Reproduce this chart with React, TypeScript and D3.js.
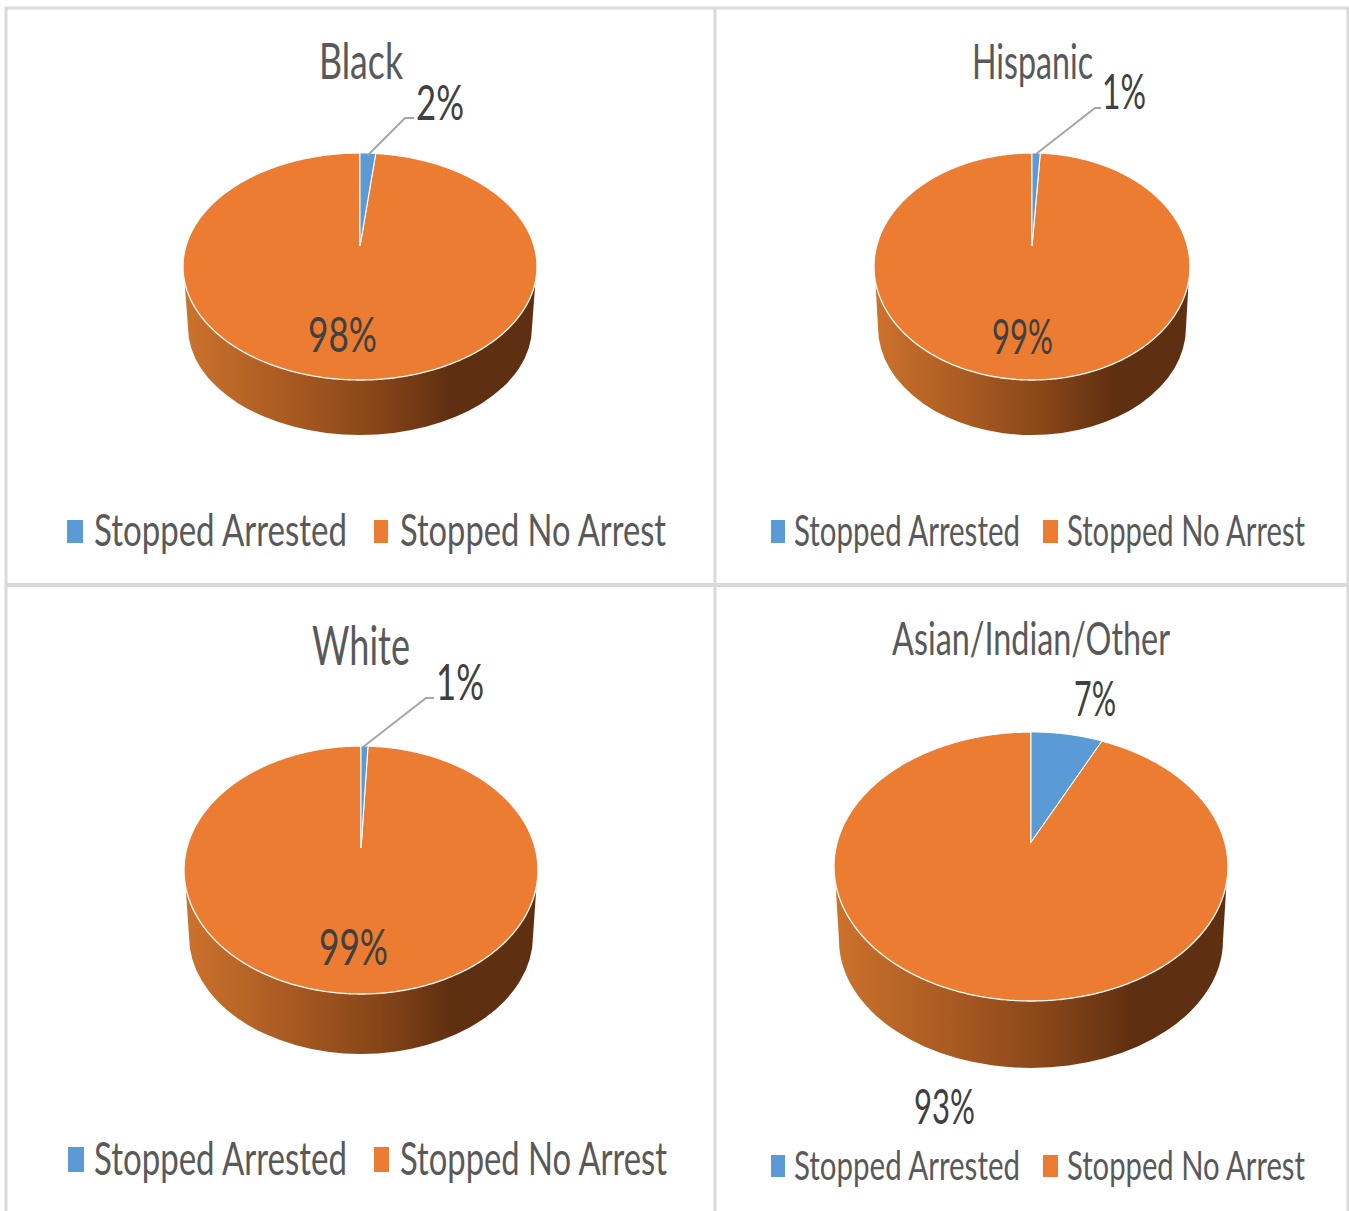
import React, { useLayoutEffect, useRef } from "react";
import * as d3 from "d3";

// ---- data ----
const categories = ["Black", "Hispanic", "White", "Asian/Indian/Other"];
const legendLabels = ["Stopped Arrested", "Stopped No Arrest"];
const arrestedLabels = ["2%", "1%", "1%", "7%"];
const noArrestLabels = ["98%", "99%", "99%", "93%"];
// slice sizes (labels are rounded)
const arrestedShare = [1.7, 1, 0.75, 7];
const noArrestShare = [98.3, 99, 99.25, 93];

// ---- layout (per panel, same order as categories) ----
type Txt = { x0: number; x1: number; base: number; size: number };
const geom = [
  { cx: 360, apex: 246, top: 153, bottom: 380, rx: 177, rxb: 172, baseBottom: 435 },
  { cx: 1032, apex: 246, top: 153, bottom: 380, rx: 158, rxb: 154, baseBottom: 435 },
  { cx: 361, apex: 848, top: 746, bottom: 994, rx: 177, rxb: 172, baseBottom: 1054 },
  { cx: 1031, apex: 842, top: 732, bottom: 1001, rx: 197, rxb: 192, baseBottom: 1068 },
];
const titlePos: Txt[] = [
  { x0: 319, x1: 403, base: 79, size: 50 },
  { x0: 972, x1: 1093, base: 79, size: 48 },
  { x0: 312, x1: 410, base: 665, size: 54 },
  { x0: 892, x1: 1170, base: 655, size: 47 },
];
const smallPos: Txt[] = [
  { x0: 416, x1: 464, base: 120, size: 48 },
  { x0: 1102, x1: 1146, base: 109, size: 48 },
  { x0: 436, x1: 484, base: 700, size: 50 },
  { x0: 1074, x1: 1116, base: 716, size: 48 },
];
const bigPos: Txt[] = [
  { x0: 308, x1: 377, base: 352, size: 48 },
  { x0: 992, x1: 1053, base: 354, size: 48 },
  { x0: 319, x1: 388, base: 965, size: 51 },
  { x0: 914, x1: 975, base: 1124, size: 48 },
];
const leaderPts: ([number, number][] | null)[] = [
  [[368, 155], [405, 118], [414, 118]],
  [[1036, 154], [1095, 108], [1101, 108]],
  [[363, 747], [426, 698], [434, 698]],
  null,
];
const legendPos = [
  { s1: [67, 83], t1: [94, 347], s2: [374, 388], t2: [400, 666], y0: 520, y1: 543, base: 546, size: 44 },
  { s1: [771, 785], t1: [794, 1020], s2: [1043, 1058], t2: [1067, 1305], y0: 520, y1: 543, base: 546, size: 42 },
  { s1: [68, 84], t1: [94, 347], s2: [374, 389], t2: [400, 667], y0: 1147, y1: 1172, base: 1175, size: 46 },
  { s1: [771, 785], t1: [794, 1020], s2: [1043, 1058], t2: [1067, 1305], y0: 1155, y1: 1177, base: 1180, size: 41 },
];

const BLUE = "#5B9BD5";
const ORANGE = "#EB7C31";
const FONT = "Lato, 'Open Sans', sans-serif";

// Fits the text to its reference width by a horizontal scale (the reference text is condensed).
function Label({ t, text, fill }: { t: Txt; text: string; fill: string }) {
  const ref = useRef<SVGTextElement>(null);
  useLayoutEffect(() => {
    const el = ref.current;
    if (!el) return;
    const fit = () => {
      const natural = el.getComputedTextLength();
      if (natural > 0) {
        el.setAttribute("transform", `translate(${t.x0},${t.base}) scale(${(t.x1 - t.x0) / natural},1)`);
      }
    };
    fit();
    document.fonts?.ready.then(fit);
  }, [t.x0, t.x1, t.base, text]);
  return (
    <text ref={ref} transform={`translate(${t.x0},${t.base})`} fontSize={t.size} fontFamily={FONT} fill={fill}>
      {text}
    </text>
  );
}

function Pie3D({ i }: { i: number }) {
  const g = geom[i];
  const pie = d3.pie<number>().sort(null);
  const arcs = pie([arrestedShare[i], noArrestShare[i]]);
  // perspective mapping from pie-plane angle to screen
  const back = g.apex - g.top;
  const front = g.bottom - g.apex;
  const r = front / back;
  const p = (r - 1) / (r + 1);
  const m = back * (1 + p);
  const k = g.rx * Math.sqrt(1 - p * p);
  const project = (a: number): [number, number] => {
    const u = Math.sin(a);
    const v = Math.cos(a);
    const w = 1 + p * v;
    return [g.cx + (k * u) / w, g.apex - (m * v) / w];
  };
  const line = d3.line();
  const slicePath = (a0: number, a1: number) => {
    const n = Math.max(2, Math.ceil((a1 - a0) / 0.01));
    const pts = d3.range(n + 1).map((j) => project(a0 + ((a1 - a0) * j) / n));
    return line([[g.cx, g.apex], ...pts]) + "Z";
  };
  const cy = (g.top + g.bottom) / 2;
  const ry = (g.bottom - g.top) / 2;
  const ryb = ry * 0.95;
  const cyb = g.baseBottom - ryb;
  const side = `M${g.cx - g.rx + 1},${cy + 8}L${g.cx - g.rxb},${cyb}A${g.rxb},${ryb} 0 0 0 ${g.cx + g.rxb},${cyb}L${g.cx + g.rx - 1},${cy + 8}Z`;
  return (
    <g>
      <path d={side} fill="url(#sideGrad)" />
      <path d={slicePath(arcs[1].startAngle, arcs[1].endAngle)} fill={ORANGE} stroke="#fff" strokeWidth={1.3} />
      <path d={slicePath(arcs[0].startAngle, arcs[0].endAngle)} fill={BLUE} stroke="#fff" strokeWidth={1} />
    </g>
  );
}

export default function App() {
  const W = 1349;
  const H = 1211;
  const leader = d3.line();
  return (
    <svg
      width={W}
      height={H}
      viewBox={`0 0 ${W} ${H}`}
      style={{ position: "absolute", left: 0, top: 0, display: "block", background: "#fff" }}
    >
      <defs>
        <linearGradient id="sideGrad" x1="0" x2="1" y1="0" y2="0">
          <stop offset="0" stopColor="#CC722C" />
          <stop offset="0.3" stopColor="#A85A22" />
          <stop offset="0.55" stopColor="#874518" />
          <stop offset="0.76" stopColor="#5F2F11" />
          <stop offset="1" stopColor="#5F2F11" />
        </linearGradient>
      </defs>
      <g stroke="#DADADA" strokeWidth={3} fill="none">
        <path d={`M6,${H}V8H1348V${H}`} />
        <path d={`M715,8V${H}`} />
        <path d="M6,585H1348" strokeWidth={4} />
      </g>
      {categories.map((c, i) => {
        const lg = legendPos[i];
        const lp = leaderPts[i];
        return (
          <g key={c}>
            <Pie3D i={i} />
            <Label t={titlePos[i]} text={c} fill="#595959" />
            {lp && <path d={leader(lp) as string} fill="none" stroke="#A6A6A6" strokeWidth={2} />}
            <Label t={smallPos[i]} text={arrestedLabels[i]} fill="#404040" />
            <Label t={bigPos[i]} text={noArrestLabels[i]} fill="#404040" />
            <rect x={lg.s1[0]} y={lg.y0} width={lg.s1[1] - lg.s1[0]} height={lg.y1 - lg.y0} fill={BLUE} />
            <rect x={lg.s2[0]} y={lg.y0} width={lg.s2[1] - lg.s2[0]} height={lg.y1 - lg.y0} fill={ORANGE} />
            <Label t={{ x0: lg.t1[0], x1: lg.t1[1], base: lg.base, size: lg.size }} text={legendLabels[0]} fill="#595959" />
            <Label t={{ x0: lg.t2[0], x1: lg.t2[1], base: lg.base, size: lg.size }} text={legendLabels[1]} fill="#595959" />
          </g>
        );
      })}
    </svg>
  );
}
